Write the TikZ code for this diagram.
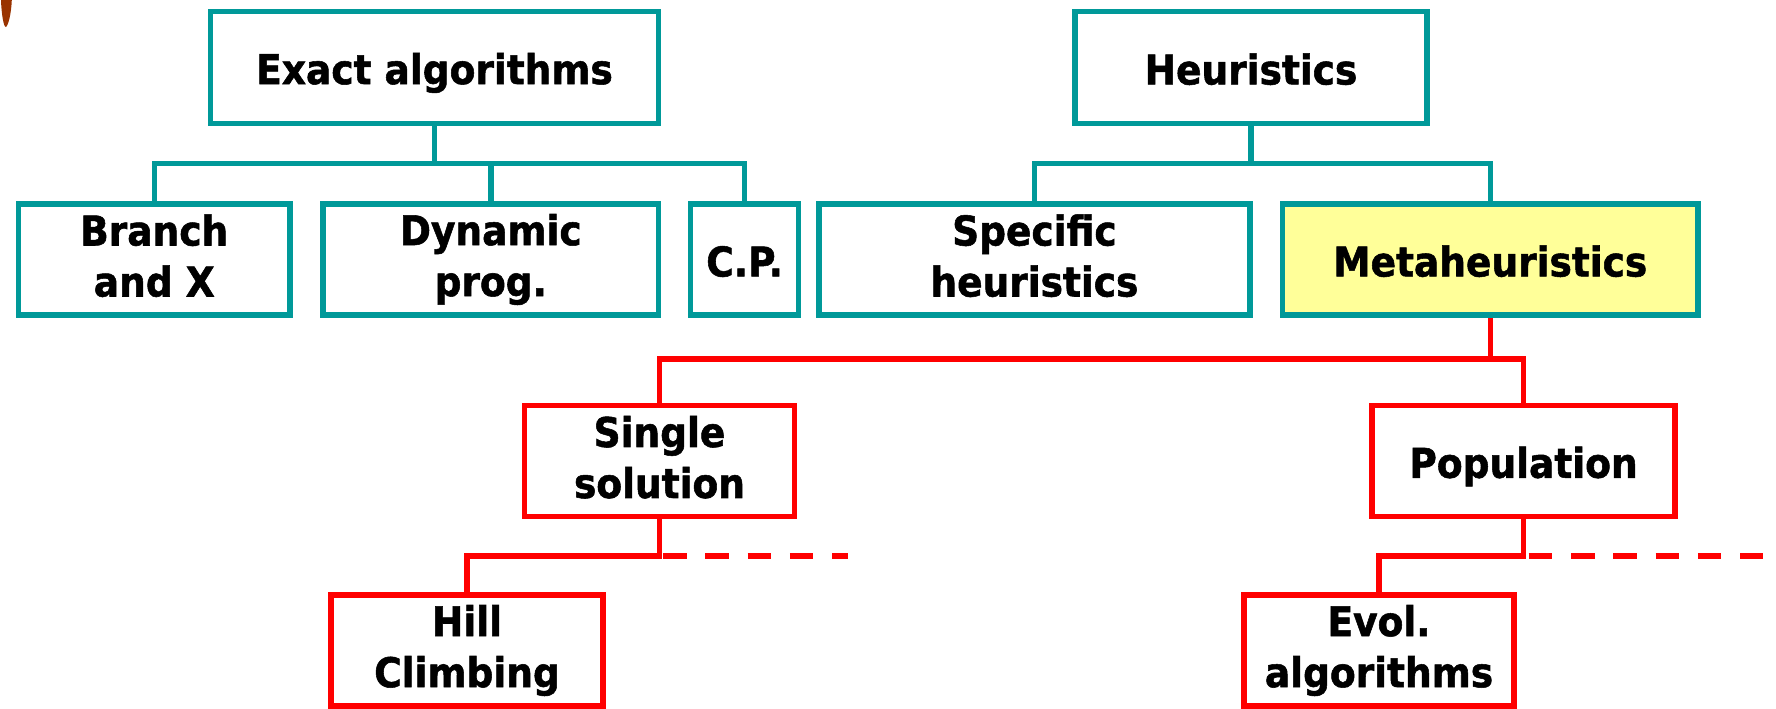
\documentclass[tikz,border=0pt]{standalone}
\usepackage{fontspec}
\setmainfont{DejaVu Sans}[FakeStretch=0.915, BoldFeatures={FakeBold=1.3}]
\newcommand\lstrut{\rule[-0.2em]{0pt}{\dimexpr1.129em+2pt\relax}}
\definecolor{tealc}{RGB}{0,153,153}
\definecolor{redc}{RGB}{255,0,0}
\definecolor{yellowc}{RGB}{255,255,153}
\definecolor{brownc}{RGB}{153,51,0}
\tikzset{
  boxbase/.style={line width=2.75pt, inner sep=0pt, align=center,
    font=\fontsize{20.5pt}{25.5pt}\selectfont\bfseries,
    execute at begin node=\lstrut, execute at end node=\lstrut,
    minimum height=55.5pt},
  tbox/.style={boxbase, draw=tealc, fill=white},
  rbox/.style={boxbase, draw=redc, fill=white},
  tline/.style={draw=tealc, line width=2.75pt, line join=miter},
  rline/.style={draw=redc, line width=2.75pt, line join=miter},
  rdash/.style={rline, dash pattern=on 11.75pt off 9.4pt},
}
\begin{document}
\begin{tikzpicture}[x=0.5pt, y=-0.5pt]
\useasboundingbox (0,0) rectangle (1776,708);
% brown mark top-left
\fill[brownc] (1,0) .. controls (1.5,14) and (3.5,26.5) .. (5.8,27)
  .. controls (8,26.5) and (11.3,14) .. (11.8,0) -- cycle;

% top level
\node[tbox, minimum width=224pt, minimum height=56pt] (exact) at (434.5,67.5) {Exact algorithms};
\node[tbox, minimum width=176pt, minimum height=56pt] (heur) at (1251,67.5) {Heuristics};

% second level
\node[tbox, minimum width=135.75pt] (branch) at (154.25,259.5) {Branch\\and X};
\node[tbox, minimum width=167.75pt] (dyn) at (490.75,259.5) {Dynamic\\prog.};
\node[tbox, minimum width=54pt] (cp) at (744.6,259.5) {C.P.};
\node[tbox, minimum width=215.5pt] (spec) at (1034.4,259.5) {Specific\\heuristics};
\node[tbox, fill=yellowc, minimum width=207.75pt] (meta) at (1490.25,259.5) {Metaheuristics};

% third level
\node[rbox, minimum width=135pt] (single) at (659.5,461) {Single\\solution};
\node[rbox, minimum width=151.5pt] (pop) at (1523.5,461) {Population};

% fourth level
\node[rbox, minimum width=136pt] (hill) at (467,650.5) {Hill\\Climbing};
\node[rbox, minimum width=135pt] (evol) at (1379,650.5) {Evol.\\algorithms};

% junction coordinates
\coordinate (ej) at (434.5,163.5);
\coordinate (hj) at (1251,163.5);
\coordinate (mj) at (1490.25,359);
\coordinate (sj) at (659.5,556);
\coordinate (pj) at (1523.5,556);
\coordinate (sd1) at (663,556);
\coordinate (sd2) at (848,556);
\coordinate (pd1) at (1528.7,556);
\coordinate (pd2) at (1763.4,556);

% teal connectors
\draw[tline] (branch.north) -- (branch.north |- ej) -- (cp.north |- ej) -- (cp.north);
\draw[tline] (dyn.north) -- (dyn.north |- ej);
\draw[tline] (exact.south) -- (ej);
\draw[tline] (spec.north) -- (spec.north |- hj) -- (meta.north |- hj) -- (meta.north);
\draw[tline] (heur.south) -- (hj);

% red connectors
\draw[rline] (single.north) -- (single.north |- mj) -- (pop.north |- mj) -- (pop.north);
\draw[rline] (meta.south) -- (mj);
\draw[rline] (single.south) -- (sj) -| (hill.north);
\draw[rline] (pop.south) -- (pj) -| (evol.north);
\draw[rdash] (sd1) -- (sd2);
\draw[rdash] (pd1) -- (pd2);
\end{tikzpicture}
\end{document}
